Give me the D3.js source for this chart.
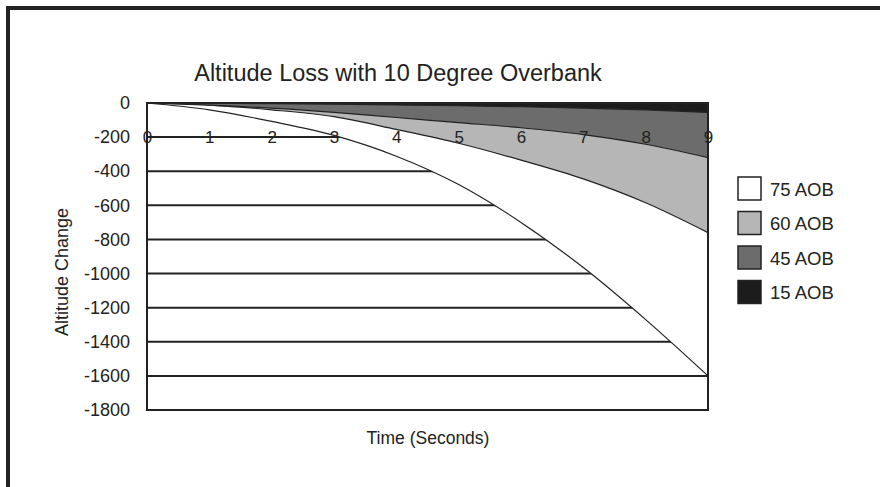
<!DOCTYPE html>
<html><head><meta charset="utf-8">
<script src="https://cdn.jsdelivr.net/npm/d3@7"></script>
<style>
html,body{margin:0;padding:0;background:#fff;}
svg text{font-family:"Liberation Sans",Arial,sans-serif;fill:#222;}
</style></head>
<body><svg id="c" width="880" height="487"></svg>
<script>
const times = [0,1,2,3,4,5,6,7,8,9];
const aob75 = [0,-40,-108,-190,-312,-478,-700,-965,-1270,-1600];
const aob60 = [0,-12,-40,-80,-155,-236,-335,-445,-585,-760];
const aob45 = [0,-12,-30,-55,-85,-115,-145,-185,-242,-320];
const aob15 = [0,-2,-4,-7,-11,-16,-22,-30,-40,-55];
const seriesNames = ["75 AOB","60 AOB","45 AOB","15 AOB"];
const seriesColors = ["#ffffff","#b6b6b6","#6c6c6c","#1c1c1c"];
const yTicks = [0,-200,-400,-600,-800,-1000,-1200,-1400,-1600,-1800];
const xTicks = [0,1,2,3,4,5,6,7,8,9];
const gridValues = [-200,-400,-600,-800,-1000,-1200,-1400,-1600];

const svg = d3.select("#c");
const FONT = "'Liberation Sans',Arial,sans-serif";
// frame
svg.append("rect").attr("x",8).attr("y",8).attr("width",880).attr("height",490)
  .attr("fill","none").attr("stroke","#222").attr("stroke-width",4);

const x = d3.scaleLinear().domain([0,9]).range([147,708]);
const y = d3.scaleLinear().domain([-1800,0]).range([410,103]);

// gridlines
svg.append("g").selectAll("line").data(gridValues).join("line")
  .attr("x1",x(0)).attr("x2",x(9)).attr("y1",d=>y(d)).attr("y2",d=>y(d))
  .attr("stroke","#222").attr("stroke-width",2);

const seriesData = [aob75,aob60,aob45,aob15];
const area = d3.area().x((d,i)=>x(times[i])).y0(y(0)).y1(d=>y(d)).curve(d3.curveMonotoneX);
const line = d3.line().x((d,i)=>x(times[i])).y(d=>y(d)).curve(d3.curveMonotoneX);
seriesData.forEach((s,k)=>{
  svg.append("path").attr("d",area(s)).attr("fill",seriesColors[k]);
  svg.append("path").attr("d",line(s)).attr("fill","none").attr("stroke","#222").attr("stroke-width",1.2);
});

// plot border
svg.append("rect").attr("x",x(0)).attr("y",y(0)).attr("width",x(9)-x(0)).attr("height",y(-1800)-y(0))
  .attr("fill","none").attr("stroke","#222").attr("stroke-width",2);

// x axis labels on the -200 line
const xa = svg.append("g").attr("transform",`translate(0,${y(-200)})`)
  .call(d3.axisBottom(x).tickValues(xTicks).tickSize(0).tickFormat(d=>String(d)));
xa.select(".domain").remove();
xa.selectAll("text").attr("y",0).attr("dy","0.36em").style("font-size","17px")
  .style("font-family",FONT).attr("fill","#333");

// y axis
const ya = svg.append("g").attr("transform",`translate(${x(0)},0)`)
  .call(d3.axisLeft(y).tickValues(yTicks).tickSize(0).tickPadding(17).tickFormat(d=>String(d)));
ya.select(".domain").remove();
ya.selectAll("text").style("font-size","18px").style("font-family",FONT).attr("fill","#222");

// titles
svg.append("text").attr("x",398).attr("y",81).attr("text-anchor","middle")
  .style("font-size","23.5px").text("Altitude Loss with 10 Degree Overbank");
svg.append("text").attr("transform","translate(68,272) rotate(-90)").attr("text-anchor","middle")
  .style("font-size","18px").text("Altitude Change");
svg.append("text").attr("x",428).attr("y",444).attr("text-anchor","middle")
  .style("font-size","17.5px").text("Time (Seconds)");

// legend
const lg = svg.append("g").selectAll("g").data(seriesNames).join("g")
  .attr("transform",(d,i)=>`translate(738,${177+i*34.5})`);
lg.append("rect").attr("width",23).attr("height",23).attr("fill",(d,i)=>seriesColors[i])
  .attr("stroke","#222").attr("stroke-width",1.5);
lg.append("text").attr("x",32).attr("y",12).attr("dy","0.36em").style("font-size","18.5px").text(d=>d);
</script></body></html>
